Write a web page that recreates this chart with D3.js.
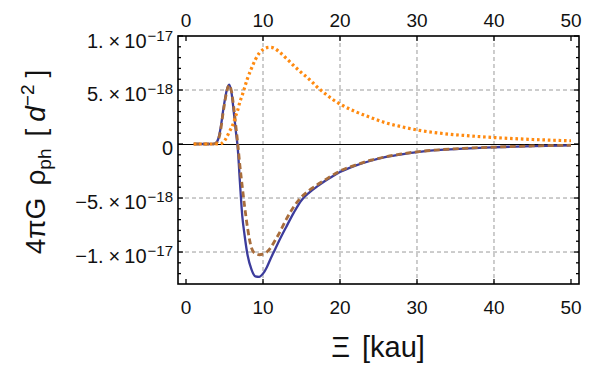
<!DOCTYPE html>
<html>
<head>
<meta charset="utf-8">
<script src="https://cdn.jsdelivr.net/npm/d3@7"></script>
<style>
	html, body { margin: 0; padding: 0; background: #fff; }
	svg { display: block; font-family: "Liberation Sans", Arial, sans-serif; }
</style>
</head>
<body>
<div id="chart"></div>
<script>
// abscissa Ξ [kau]
const xi = [1, 3.5, 3.8, 4.2, 4.5, 4.8, 5.0, 5.3, 5.6, 5.9, 6.2, 6.5, 6.7, 7.0, 7.3, 7.6, 8.0, 8.5, 9.0, 9.5,
	10, 10.5, 11, 11.5, 12, 13, 14, 15, 16, 17, 18, 19, 20, 22, 24, 26, 28, 30, 33, 36, 40, 45, 50];
// values in units of 1e-18 d^-2
const solidVals = [0, 0, 0.05, 0.5, 1.5, 3.0, 3.9, 5.0, 5.5, 4.8, 3.0, 1.0, -0.2, -3.5, -6.6, -8.4, -10.3, -11.6, -12.25, -12.3,
	-12.0, -11.4, -10.6, -9.85, -9.1, -7.7, -6.35, -5.2, -4.5, -3.95, -3.45, -3.0, -2.6, -2.0, -1.55, -1.2, -0.95, -0.75, -0.55, -0.42, -0.3, -0.19, -0.12];
const dashedVals = [0, 0, 0.03, 0.4, 1.3, 2.8, 3.7, 4.9, 5.45, 4.9, 3.4, 1.5, 0.2, -2.0, -3.9, -5.7, -7.8, -9.6, -10.15, -10.25,
	-10.2, -10.0, -9.6, -9.0, -8.4, -7.0, -5.8, -4.9, -4.3, -3.8, -3.35, -2.9, -2.5, -1.95, -1.5, -1.17, -0.92, -0.72, -0.53, -0.4, -0.29, -0.18, -0.11];
const dottedVals = [0, 0, 0, 0, 0.02, 0.15, 0.3, 0.65, 1.1, 1.5, 2.0, 2.7, 3.1, 3.9, 4.5, 5.2, 6.1, 7.0, 7.8, 8.4,
	8.75, 8.92, 8.95, 8.85, 8.6, 7.95, 7.25, 6.6, 6.0, 5.3, 4.7, 4.15, 3.7, 3.0, 2.45, 1.95, 1.6, 1.3, 1.0, 0.8, 0.6, 0.42, 0.3];

const xTicks = [0, 10, 20, 30, 40, 50];
const yTicks = [-10, -5, 0, 5, 10];           // major, in 1e-18
const yTickLabels = [["\u22121.", "\u221217"], ["\u22125.", "\u221218"], ["0", null], ["5.", "\u221218"], ["1.", "\u221217"]];

const W = 595, H = 368;
const m = { left: 178, right: 579, top: 36, bottom: 284 };

const svg = d3.select("#chart").append("svg")
	.attr("width", W).attr("height", H);

const x = d3.scaleLinear().domain([-1.04, 51.04]).range([m.left, m.right]);
const y = d3.scaleLinear().domain([-12.96, 10]).range([m.bottom, m.top]);

// grid
const grid = svg.append("g")
	.attr("stroke", "#9a9a9a").attr("stroke-width", 1).attr("stroke-dasharray", "4,3");
grid.selectAll("line.gx").data([10, 20, 30, 40]).join("line")
	.attr("x1", d => x(d)).attr("x2", d => x(d)).attr("y1", m.top).attr("y2", m.bottom);
grid.selectAll("line.gy").data([-10, -5, 5]).join("line")
	.attr("x1", m.left).attr("x2", m.right).attr("y1", d => y(d)).attr("y2", d => y(d));

// zero axis
svg.append("line")
	.attr("x1", m.left).attr("x2", m.right).attr("y1", Math.round(y(0)) + 0.5).attr("y2", Math.round(y(0)) + 0.5)
	.attr("stroke", "#000").attr("stroke-width", 1.2);

// curves
function draw(vals, color, width, dash) {
	const line = d3.line()
		.x((d, i) => x(xi[i]))
		.y(d => y(d))
		.curve(d3.curveMonotoneX);
	svg.append("path")
		.datum(vals)
		.attr("d", line)
		.attr("fill", "none")
		.attr("stroke", color)
		.attr("stroke-width", width)
		.attr("stroke-dasharray", dash)
		.attr("stroke-linejoin", "round");
}
draw(solidVals, "#3c3c9c", 2.3, null);
draw(dashedVals, "#a86d3c", 2.8, "6,3.5");
draw(dottedVals, "#ff8a10", 3.2, "2.6,2.8");

// frame
svg.append("rect")
	.attr("x", m.left).attr("y", m.top).attr("width", m.right - m.left).attr("height", m.bottom - m.top)
	.attr("fill", "none").attr("stroke", "#000").attr("stroke-width", 1.6);

// ticks
const ticks = svg.append("g").attr("stroke", "#000").attr("stroke-width", 1.3);
xTicks.forEach(t => {
	ticks.append("line").attr("x1", x(t)).attr("x2", x(t)).attr("y1", m.bottom).attr("y2", m.bottom - 5);
	ticks.append("line").attr("x1", x(t)).attr("x2", x(t)).attr("y1", m.top).attr("y2", m.top + 5);
});
d3.range(-12, 11).forEach(t => {
	const len = (t % 5 === 0) ? 5 : 3;
	ticks.append("line").attr("x1", m.left).attr("x2", m.left + len).attr("y1", y(t)).attr("y2", y(t));
	ticks.append("line").attr("x1", m.right).attr("x2", m.right - len).attr("y1", y(t)).attr("y2", y(t));
});

// x tick labels (bottom and top)
svg.append("g").selectAll("text").data(xTicks).join("text")
	.attr("x", d => x(d)).attr("y", 314)
	.attr("text-anchor", "middle").attr("font-size", 19).attr("fill", "#111")
	.text(d => d);
svg.append("g").selectAll("text").data(xTicks).join("text")
	.attr("x", d => x(d)).attr("y", 27)
	.attr("text-anchor", "middle").attr("font-size", 19).attr("fill", "#111")
	.text(d => d);

// y tick labels
yTicks.forEach((t, i) => {
	const [mant, expo] = yTickLabels[i];
	const txt = svg.append("text")
		.attr("x", 173).attr("y", y(t) + (t === 10 ? 11.5 : 10.5))
		.attr("text-anchor", "end").attr("font-size", 20).attr("fill", "#111");
	if (expo === null) {
		txt.text(mant);
		return;
	}
	txt.append("tspan").text(mant);
	txt.append("tspan").attr("dx", 5).text("\u00d7");
	txt.append("tspan").attr("dx", 4).text("10");
	txt.append("tspan").attr("dx", 1).attr("dy", -7).attr("font-size", 15).text(expo);
});

// axis labels
const xl = svg.append("text")
	.attr("x", 378).attr("y", 357)
	.attr("text-anchor", "middle").attr("font-size", 29).attr("fill", "#111");
xl.append("tspan").text("\u039e");
xl.append("tspan").attr("dx", 12).text("[kau]");

const yl = svg.append("text")
	.attr("transform", "translate(45,162) rotate(-90)")
	.attr("text-anchor", "middle").attr("font-size", 28).attr("fill", "#111");
yl.append("tspan").text("4\u03c0G");
yl.append("tspan").attr("dx", 12).text("\u03c1");
yl.append("tspan").attr("dy", 6).attr("font-size", 19).text("ph");
yl.append("tspan").attr("dx", 12).attr("dy", -6).text("[");
yl.append("tspan").attr("dx", 7).attr("font-style", "italic").text("d");
yl.append("tspan").attr("dy", -11).attr("font-size", 19).text("\u22122");
yl.append("tspan").attr("dx", 7).attr("dy", 11).text("]");
</script>
</body>
</html>
